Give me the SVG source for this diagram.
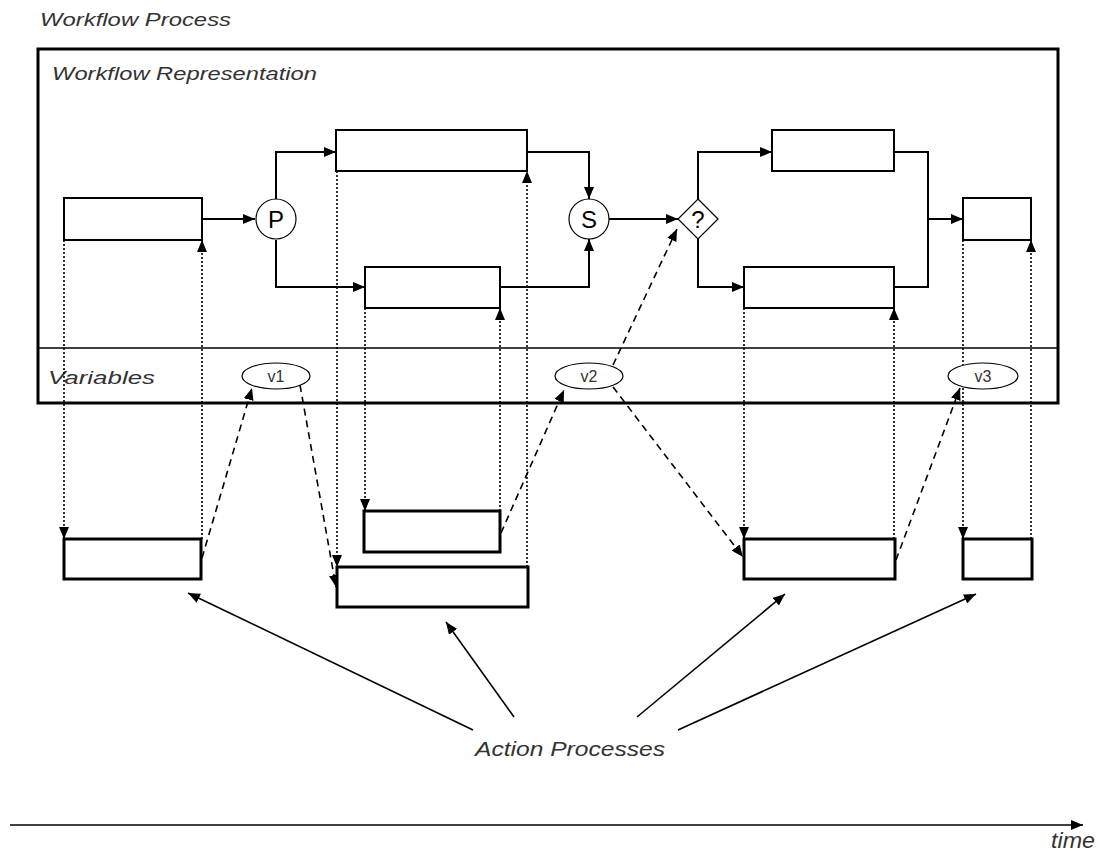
<svg xmlns="http://www.w3.org/2000/svg" width="1110" height="862" viewBox="0 0 1110 862">
<style>
.lbl{font-family:"Liberation Sans",Arial,sans-serif;font-style:italic;fill:#333}
.box{fill:#fff;stroke:#000;stroke-width:2}
.abox{fill:#fff;stroke:#000;stroke-width:3}
.flow{fill:none;stroke:#000;stroke-width:2}
.dot{fill:none;stroke:#000;stroke-width:1.6;stroke-dasharray:2 2}
.dash{fill:none;stroke:#000;stroke-width:1.6;stroke-dasharray:7 5}
.thin{fill:none;stroke:#000;stroke-width:1.6}
.var{fill:#fff;stroke:#000;stroke-width:1.2}
.vt{font-family:"Liberation Sans",Arial,sans-serif;font-size:16px;fill:#333;text-anchor:middle}
.sym{font-family:"Liberation Sans",Arial,sans-serif;font-size:24px;fill:#000;text-anchor:middle}
</style>
<defs>
<marker id="ah" markerUnits="userSpaceOnUse" markerWidth="12" markerHeight="10" refX="12" refY="5" orient="auto">
<path d="M0,0 L12,5 L0,10 z" fill="#000"/>
</marker>
</defs>
<rect width="1110" height="862" fill="#fff"/>

<text class="lbl" x="40" y="26" font-size="19" textLength="191" lengthAdjust="spacingAndGlyphs">Workflow Process</text>

<g id="workflow-process">
<rect x="38" y="49" width="1020" height="354" fill="#fff" stroke="#000" stroke-width="3"/>
<line x1="38" y1="348" x2="1058" y2="348" stroke="#000" stroke-width="1.6"/>
<text class="lbl" x="52" y="80" font-size="19" textLength="265" lengthAdjust="spacingAndGlyphs">Workflow Representation</text>
<text class="lbl" x="48" y="384" font-size="19" textLength="107" lengthAdjust="spacingAndGlyphs">Variables</text>
</g>

<g id="connectors">
<path class="flow" d="M202,219 L255,219" marker-end="url(#ah)"/>
<path class="flow" d="M276,199 L276,152 L336,152" marker-end="url(#ah)"/>
<path class="flow" d="M276,240 L276,287 L365,287" marker-end="url(#ah)"/>
<path class="flow" d="M527,152 L589,152 L589,199" marker-end="url(#ah)"/>
<path class="flow" d="M500,287 L589,287 L589,239" marker-end="url(#ah)"/>
<path class="flow" d="M609,219 L678,219" marker-end="url(#ah)"/>
<path class="flow" d="M698,199 L698,152 L772,152" marker-end="url(#ah)"/>
<path class="flow" d="M698,239 L698,287 L744,287" marker-end="url(#ah)"/>
<path class="flow" d="M894,152 L928,152 L928,287 L894,287"/>
<path class="flow" d="M928,219 L963,219" marker-end="url(#ah)"/>
<path class="dot" d="M64,240 L64,539" marker-end="url(#ah)"/>
<path class="dot" d="M202,539 L202,240" marker-end="url(#ah)"/>
<path class="dot" d="M337,171 L337,567" marker-end="url(#ah)"/>
<path class="dot" d="M527,567 L527,171" marker-end="url(#ah)"/>
<path class="dot" d="M365,308 L365,511" marker-end="url(#ah)"/>
<path class="dot" d="M500,511 L500,308" marker-end="url(#ah)"/>
<path class="dot" d="M744,308 L744,539" marker-end="url(#ah)"/>
<path class="dot" d="M894,539 L894,308" marker-end="url(#ah)"/>
<path class="dot" d="M963,240 L963,539" marker-end="url(#ah)"/>
<path class="dot" d="M1031,539 L1031,240" marker-end="url(#ah)"/>
<path class="dash" d="M202,558 L252,388" marker-end="url(#ah)"/>
<path class="dash" d="M300,385 L336,587" marker-end="url(#ah)"/>
<path class="dash" d="M501,533 L564,390" marker-end="url(#ah)"/>
<path class="dash" d="M613,387 L743,557" marker-end="url(#ah)"/>
<path class="dash" d="M896,560 L960,388" marker-end="url(#ah)"/>
<path class="dash" d="M613,365 L677,229" marker-end="url(#ah)"/>
<path class="thin" d="M473,730 L188,593" marker-end="url(#ah)"/>
<path class="thin" d="M514,717 L446,622" marker-end="url(#ah)"/>
<path class="thin" d="M637,717 L785,594" marker-end="url(#ah)"/>
<path class="thin" d="M678,730 L976,594" marker-end="url(#ah)"/>
<path class="thin" d="M10,825 L1083,825" marker-end="url(#ah)"/>
</g>

<g id="task1"><rect class="box" x="64" y="198" width="138" height="42"/></g>
<g id="parallel"><circle cx="276" cy="219" r="20" fill="#fff" stroke="#000" stroke-width="1.2"/><text class="sym" x="276" y="228">P</text></g>
<g id="task2"><rect class="box" x="336" y="130" width="191" height="41"/></g>
<g id="task3"><rect class="box" x="365" y="267" width="135" height="41"/></g>
<g id="sync"><circle cx="589" cy="219" r="20" fill="#fff" stroke="#000" stroke-width="1.2"/><text class="sym" x="589" y="228">S</text></g>
<g id="decision"><path d="M698,199 L718,219 L698,239 L678,219 z" fill="#fff" stroke="#000" stroke-width="1.2"/><text class="sym" x="698" y="228">?</text></g>
<g id="task4"><rect class="box" x="772" y="130" width="122" height="41"/></g>
<g id="task5"><rect class="box" x="744" y="267" width="150" height="41"/></g>
<g id="task6"><rect class="box" x="963" y="198" width="68" height="42"/></g>

<g id="v1"><ellipse class="var" cx="276" cy="376" rx="34" ry="13"/><text class="vt" x="276" y="382">v1</text></g>
<g id="v2"><ellipse class="var" cx="589" cy="376" rx="34" ry="13"/><text class="vt" x="589" y="382">v2</text></g>
<g id="v3"><ellipse class="var" cx="983" cy="376" rx="35" ry="13"/><text class="vt" x="983" y="382">v3</text></g>

<g id="action1"><rect class="abox" x="64" y="539" width="137" height="40"/></g>
<g id="action2"><rect class="abox" x="364" y="511" width="136" height="41"/></g>
<g id="action3"><rect class="abox" x="337" y="567" width="191" height="40"/></g>
<g id="action4"><rect class="abox" x="744" y="539" width="151" height="40"/></g>
<g id="action5"><rect class="abox" x="963" y="539" width="69" height="40"/></g>

<text class="lbl" x="475" y="756" font-size="21" textLength="190" lengthAdjust="spacingAndGlyphs">Action Processes</text>
<text class="lbl" x="1051" y="848" font-size="22" textLength="44" lengthAdjust="spacingAndGlyphs">time</text>
</svg>
